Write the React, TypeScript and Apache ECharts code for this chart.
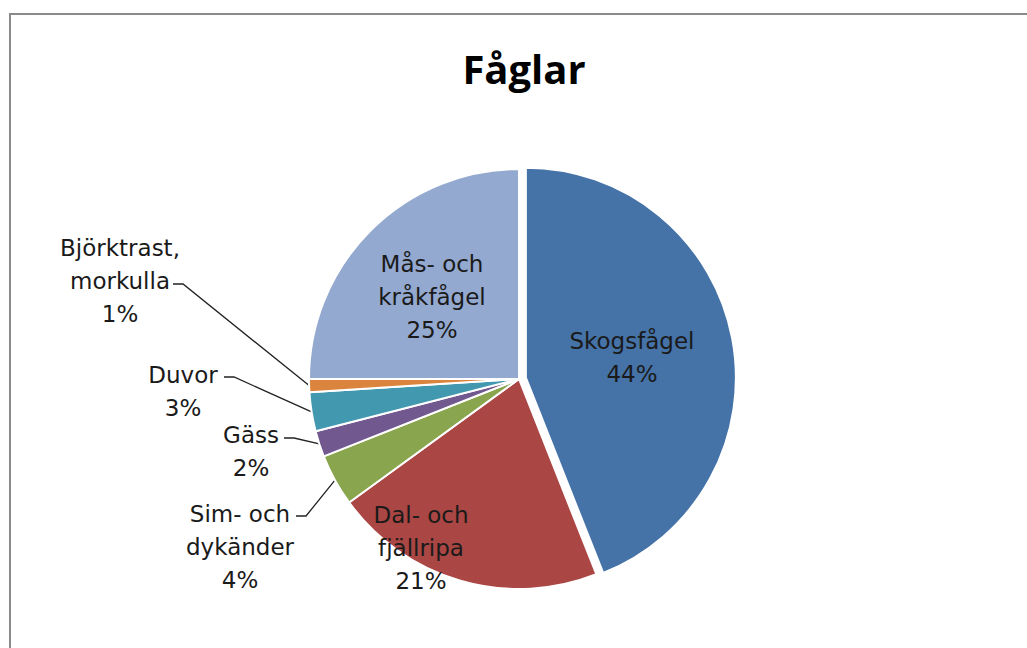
import React, { useEffect, useRef } from "react";
import * as echarts from "echarts";

const title = "Fåglar";
const categories = [
  "Skogsfågel",
  "Dal- och fjällripa",
  "Sim- och dykänder",
  "Gäss",
  "Duvor",
  "Björktrast, morkulla",
  "Mås- och kråkfågel",
];
const labelTexts = [
  "Skogsfågel",
  "Dal- och\nfjällripa",
  "Sim- och\ndykänder",
  "Gäss",
  "Duvor",
  "Björktrast,\nmorkulla",
  "Mås- och\nkråkfågel",
];
const values = [44, 21, 4, 2, 3, 1, 25];
const colors = ["#4572A7", "#AA4643", "#89A54E", "#71588F", "#4198AF", "#DB843D", "#93A9CF"];
const insideLabel = [true, true, false, false, false, false, true];

// label layout (centre of text block) and leader-line end (anchor) for outside labels
const labelPos: [number, number][] = [
  [654, 369],
  [421, 548],
  [240, 547],
  [251, 451],
  [183, 391],
  [120, 281],
  [432, 297],
];
const lineEnd: ([number, number] | null)[] = [
  null,
  null,
  [296, 516],
  [284, 438],
  [224, 377],
  [173, 284],
  null,
];

const FONT = "'DejaVu Sans', 'Noto Sans', sans-serif";
const TITLE_FONT = "'Open Sans', 'Noto Sans', sans-serif";

export default function App() {
  const ref = useRef<HTMLDivElement>(null);
  useEffect(() => {
    if (!ref.current) return;
    const chart = echarts.init(ref.current, undefined, { renderer: "svg" });
    chart.setOption({
      animation: false,
      backgroundColor: "#ffffff",
      title: {
        text: title,
        left: 519,
        top: 43,
        textAlign: "center",
        textStyle: { fontFamily: TITLE_FONT, fontSize: 40, fontWeight: "bold", color: "#000" },
      },
      graphic: [
        {
          type: "rect",
          shape: { x: 10, y: 14, width: 1200, height: 800 },
          style: { fill: "none", stroke: "#8a8a8a", lineWidth: 2 },
          silent: true,
        },
      ],
      series: [
        {
          type: "pie",
          center: [519, 379],
          radius: 210,
          startAngle: 90,
          clockwise: true,
          selectedMode: "single",
          selectedOffset: 7,
          avoidLabelOverlap: false,
          itemStyle: { borderColor: "#ffffff", borderWidth: 2 },
          emphasis: { disabled: true },
          label: {
            fontFamily: FONT,
            fontSize: 23,
            lineHeight: 33,
            color: "#1a1a1a",
            align: "center",
          },
          labelLine: { lineStyle: { color: "#222", width: 1.3 } },
          data: categories.map((name, i) => ({
            name,
            value: values[i],
            selected: i === 0,
            itemStyle: { color: colors[i] },
            label: {
              show: true,
              position: insideLabel[i] ? "inside" : "outside",
              formatter: () => `${labelTexts[i]}\n${values[i]}%`,
            },
            labelLine: { show: !insideLabel[i], length: 10, length2: 10 },
          })),
          labelLayout: (params: any) => {
            const i = params.dataIndex;
            const [x, y] = labelPos[i];
            const res: any = { x, y, align: "center", verticalAlign: "middle" };
            const end = lineEnd[i];
            if (end && params.labelLinePoints) {
              const start = params.labelLinePoints[0];
              res.labelLinePoints = [
                [start[0], start[1]],
                [end[0] + 10, end[1]],
                [end[0], end[1]],
              ];
            }
            return res;
          },
        },
      ],
    });
    return () => chart.dispose();
  }, []);
  return (
    <div
      ref={ref}
      style={{ position: "fixed", left: 0, top: 0, width: 1027, height: 648, background: "#fff" }}
    />
  );
}
